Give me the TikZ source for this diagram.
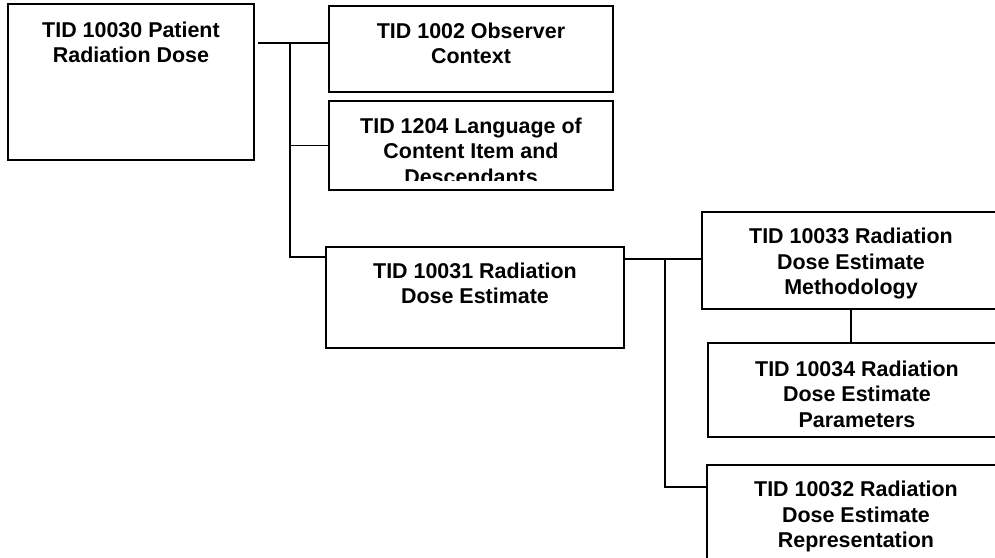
\documentclass[tikz,border=0pt]{standalone}
\usepackage{fontspec}
\setmainfont{Liberation Sans}
\usetikzlibrary{positioning}
\tikzset{
  tidbox/.style = {draw, line width = 0.9pt, fill = white},
  tidtext/.style = {anchor = north, align = center, inner sep = 0pt,
    font = \bfseries\fontsize{12.2}{14.6}\selectfont},
  link/.style = {line width = 0.9pt}
}
\begin{document}
\begin{tikzpicture}[x = 0.02cm, y = -0.02cm]
    \useasboundingbox (0, 0) rectangle (995, 558);
    \clip (0, 0) rectangle (995, 558);
    % templates
    \node[tidbox, minimum width = 4.92cm, minimum height = 3.12cm] (patient) at (131, 82) {};
    \node[tidbox, minimum width = 5.68cm, minimum height = 1.72cm] (observer) at (471, 49) {};
    \node[tidbox, minimum width = 5.68cm, minimum height = 1.78cm] (language) at (471, 145.5) {};
    \node[tidbox, minimum width = 5.96cm, minimum height = 2.02cm] (estimate) at (475, 297.5) {};
    \node[tidbox, minimum width = 5.96cm, minimum height = 1.94cm] (method) at (851, 260.5) {};
    \node[tidbox, minimum width = 5.96cm, minimum height = 1.88cm] (params) at (857, 390) {};
    \node[tidbox, minimum width = 5.96cm, minimum height = 2.1cm] (represent) at (856, 517.5) {};
    % titles
    \node[tidtext, below = 0.36cm of patient.north] (patient text) {TID 10030 Patient\\Radiation Dose};
    \node[tidtext, below = 0.34cm of observer.north] (observer text) {TID 1002 Observer\\Context};
    \begin{scope}
        \clip ([yshift = 0.2cm]language.south west) rectangle (language.north east);
        \node[tidtext, below = 0.34cm of language.north] (language text) {TID 1204 Language of\\Content Item and\\Descendants};
    \end{scope}
    \node[tidtext, below = 0.32cm of estimate.north] (estimate text) {TID 10031 Radiation\\Dose Estimate};
    \node[tidtext, below = 0.33cm of method.north] (method text) {TID 10033 Radiation\\Dose Estimate\\Methodology};
    \node[tidtext, below = 0.36cm of params.north] (params text) {TID 10034 Radiation\\Dose Estimate\\Parameters};
    \node[tidtext, below = 0.33cm of represent.north] (represent text) {TID 10032 Radiation\\Dose Estimate\\Representation};
    % connectors
    \coordinate (split) at (290, 43);
    \coordinate (split end) at (290, 257);
    \draw[link] ([xshift = 0.06cm]patient.east |- split) -- (observer.west |- split);
    \draw[link] (split) -- (split end) -- (split end -| estimate.west);
    \draw[link] (split |- language.west) -- (language.west);
    \coordinate (fork) at (665, 259);
    \coordinate (fork end) at (665, 487);
    \draw[link] (estimate.east |- fork) -- (fork -| method.west);
    \draw[link] (fork) -- (fork end) -- (fork end -| represent.west);
    \draw[link] (method.south) -- (method.south |- params.north);
\end{tikzpicture}
\end{document}
